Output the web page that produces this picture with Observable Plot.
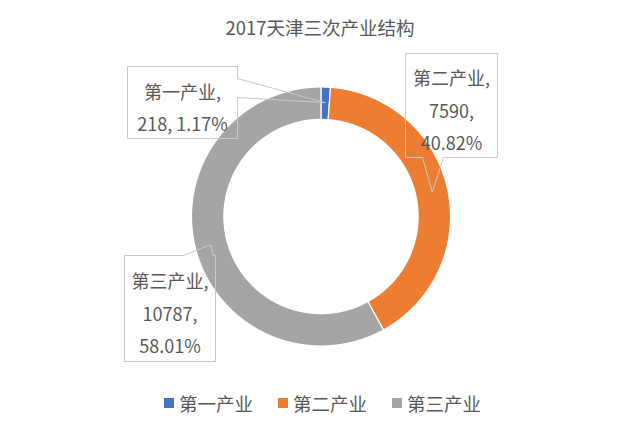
<!DOCTYPE html>
<html><head><meta charset="utf-8">
<script src="https://cdn.jsdelivr.net/npm/d3@7"></script>
<script src="https://cdn.jsdelivr.net/npm/@observablehq/plot@0.6"></script>
<style>
body{margin:0;background:#fff;font-family:"Noto Sans CJK SC","Noto Sans",sans-serif;}
#wrap{width:640px;height:430px;position:relative;overflow:hidden;}
#title{height:50px;line-height:54px;text-align:center;font-size:18.5px;color:#595959;}
#chart{height:335px;}
#legend{height:36px;display:flex;justify-content:center;align-items:center;gap:25px;font-size:18.5px;color:#595959;padding-left:5px;}
.item{display:flex;align-items:center;}
.sw{width:10px;height:10px;margin-right:5px;display:inline-block;}
</style></head><body>
<div id="wrap">
<div id="title"></div>
<div id="chart"></div>
<div id="legend"></div>
</div>
<script>
// ---- data ----
const chartTitle = "2017天津三次产业结构";
const categories = ["第一产业", "第二产业", "第三产业"];
const values = [218, 7590, 10787];
const colors = ["#4472C4", "#ED7D31", "#A5A5A5"];
const labelSeparators = [["\n", " "], ["\n", "\n"], ["\n", "\n"]];

// ---- layout (pixels, page coordinates) ----
const W = 640, H = 335, TOP = 50;
const CX = 320.5, CY = 216 - TOP, R = 129.5;
const holeRatio = 0.75;
const boxes = [
  {x0: 127, x1: 237, y0: 66, y1: 138, side: "right", b0: 78, b1: 97},
  {x0: 405, x1: 497, y0: 53, y1: 157, side: "bottom", b0: 422, b1: 443},
  {x0: 124, x1: 215, y0: 255, y1: 361, side: "top", b0: 183, b1: 213}
];

document.getElementById("title").textContent = chartTitle;

const px = p => (p - CX) / R;
const py = p => (CY - (p - TOP)) / R;

const total = d3.sum(values);
const pct = d3.format(".2%");
const pie = d3.pie().sort(null).value(d => d)(values);

// slice polygons
const slices = [];
pie.forEach((p, i) => {
  const a0 = p.startAngle, a1 = p.endAngle;
  const n = Math.max(4, Math.ceil((a1 - a0) / 0.004));
  const pts = [];
  for (let k = 0; k <= n; k++) { const a = a0 + (a1 - a0) * k / n; pts.push([Math.sin(a), Math.cos(a)]); }
  for (let k = n; k >= 0; k--) { const a = a0 + (a1 - a0) * k / n; pts.push([holeRatio * Math.sin(a), holeRatio * Math.cos(a)]); }
  pts.push(pts[0]);
  pts.forEach(([x, y]) => slices.push({cat: categories[i], x, y}));
});

// callouts
const calloutLines = [];
const calloutTexts = [];
pie.forEach((p, i) => {
  const b = boxes[i];
  const mid = (p.startAngle + p.endAngle) / 2;
  const tip = {x: 0.88 * Math.sin(mid), y: 0.88 * Math.cos(mid)};
  const pts = [];
  const P = (x, y) => ({x: px(x), y: py(y)});
  pts.push(P(b.x0, b.y0));
  if (b.side === "top") { pts.push(P(b.b0, b.y0), tip, P(b.b1, b.y0)); }
  pts.push(P(b.x1, b.y0));
  if (b.side === "right") { pts.push(P(b.x1, b.b0), tip, P(b.x1, b.b1)); }
  pts.push(P(b.x1, b.y1));
  if (b.side === "bottom") { pts.push(P(b.b1, b.y1), tip, P(b.b0, b.y1)); }
  pts.push(P(b.x0, b.y1));
  pts.push(P(b.x0, b.y0));
  pts.forEach(q => calloutLines.push({cat: categories[i], x: q.x, y: q.y}));
  const s = labelSeparators[i];
  calloutTexts.push({
    x: px((b.x0 + b.x1) / 2), y: py((b.y0 + b.y1) / 2 + 2),
    text: categories[i] + "," + s[0] + values[i] + "," + s[1] + pct(values[i] / total)
  });
});

const chart = Plot.plot({
  width: W, height: H,
  marginTop: 0, marginBottom: 0, marginLeft: 0, marginRight: 0,
  x: {type: "linear", domain: [px(0), px(W)], range: [0, W], axis: null},
  y: {type: "linear", domain: [py(TOP + H), py(TOP)], range: [H, 0], axis: null},
  color: {domain: categories, range: colors},
  style: {fontFamily: "'Noto Sans CJK SC', 'Noto Sans', sans-serif", background: "transparent"},
  marks: [
    Plot.line(slices, {x: "x", y: "y", z: "cat", fill: "cat", stroke: "white", strokeWidth: 1.2, curve: "linear"}),
    Plot.line(calloutLines, {x: "x", y: "y", z: "cat", stroke: "#c8c8c8", strokeWidth: 1, fill: "none", curve: "linear"}),
    Plot.text(calloutTexts, {x: "x", y: "y", text: "text", fontSize: 18, lineHeight: 1.8, fill: "#595959", textAnchor: "middle", lineAnchor: "middle"})
  ]
});
document.getElementById("chart").appendChild(chart);

const legend = document.getElementById("legend");
categories.forEach((c, i) => {
  const it = document.createElement("div");
  it.className = "item";
  const sw = document.createElement("span");
  sw.className = "sw";
  sw.style.background = colors[i];
  const t = document.createElement("span");
  t.textContent = c;
  it.appendChild(sw); it.appendChild(t);
  legend.appendChild(it);
});
</script>
</body></html>
